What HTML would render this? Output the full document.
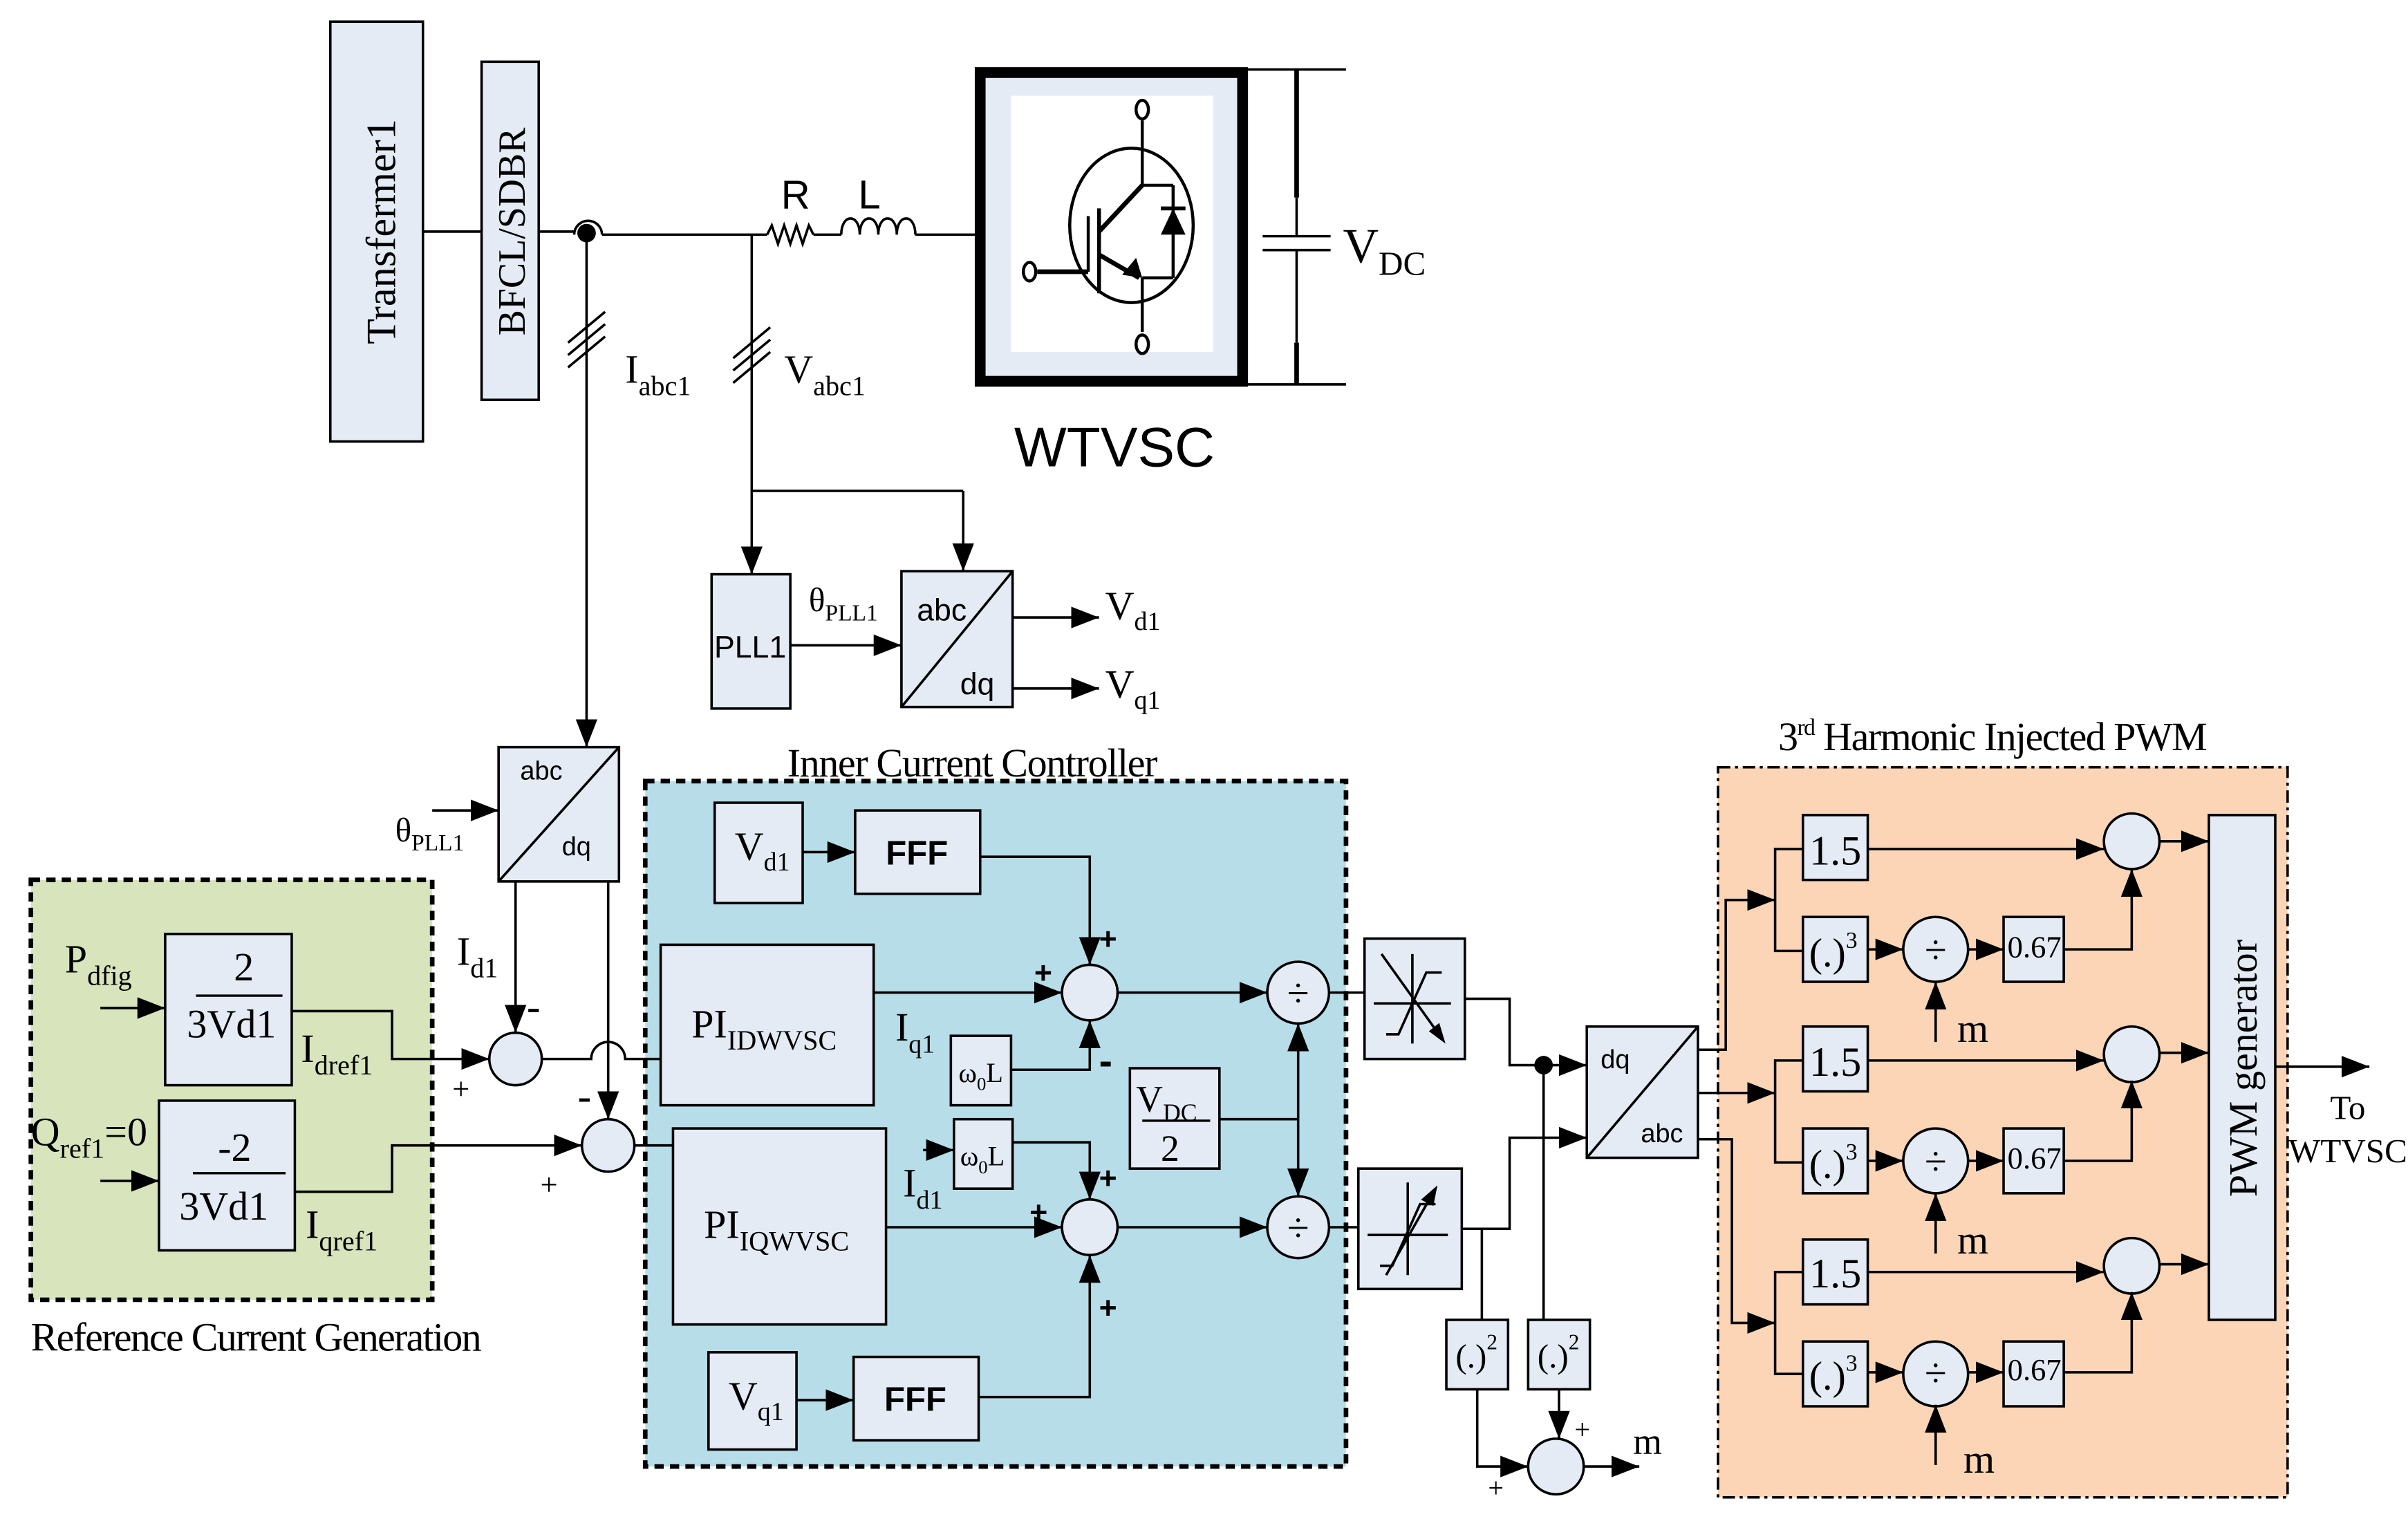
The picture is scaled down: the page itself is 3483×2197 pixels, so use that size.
<!DOCTYPE html>
<html><head><meta charset="utf-8"><style>html,body{margin:0;padding:0;background:#fff}svg{display:block}</style></head>
<body>
<svg xmlns="http://www.w3.org/2000/svg" width="3483" height="2197" viewBox="0 0 1560 984" font-family="'Liberation Serif', serif">
<defs>
<marker id="a" markerUnits="userSpaceOnUse" markerWidth="20" markerHeight="14" refX="18" refY="7" orient="auto"><path d="M0,0 L18,7 L0,14 z" fill="#000"/></marker>
</defs>
<rect width="1560" height="984" fill="#fff"/>
<g stroke="#000" stroke-width="1.6" fill="none">
<rect x="20" y="570" width="260" height="272" fill="#d8e4bc" stroke-width="3" stroke-dasharray="6,4"/>
<rect x="418" y="506" width="454" height="444" fill="#b7dde8" stroke-width="3" stroke-dasharray="6,4"/>
<rect x="1113" y="497" width="369" height="473" fill="#fbd5b5" stroke-width="1.6" stroke-dasharray="8,3,2,3"/>
</g>
<g stroke="#000" stroke-width="1.6" fill="#e4ebf5">
<rect x="214" y="14" width="60" height="272"/>
<rect x="312" y="40" width="37" height="219"/>
<rect x="461" y="372" width="51" height="87"/>
<rect x="584" y="370" width="72" height="88"/>
<rect x="323" y="484" width="78" height="87"/>
<rect x="107" y="605" width="82" height="98"/>
<rect x="103" y="713" width="88" height="97"/>
<rect x="463" y="520" width="57" height="65"/>
<rect x="554" y="525" width="81" height="54"/>
<rect x="428" y="612" width="138" height="104"/>
<rect x="436" y="731" width="138" height="127"/>
<rect x="616" y="671" width="39" height="45"/>
<rect x="618" y="725" width="38" height="45"/>
<rect x="732" y="692" width="58" height="65"/>
<rect x="459" y="876" width="57" height="63"/>
<rect x="553" y="879" width="81" height="54"/>
<rect x="884" y="608" width="65" height="78"/>
<rect x="880" y="757" width="67" height="78"/>
<rect x="937" y="855" width="40" height="45"/>
<rect x="990" y="855" width="40" height="45"/>
<rect x="1028" y="665" width="72" height="85"/>
<rect x="1431" y="528" width="43" height="327"/>
<rect x="1168" y="528" width="42" height="42"/><rect x="1168" y="594" width="42" height="42"/><rect x="1298" y="594" width="39" height="42"/>
<rect x="1168" y="665" width="42" height="42"/><rect x="1168" y="731" width="42" height="42"/><rect x="1298" y="731" width="39" height="42"/>
<rect x="1168" y="803" width="42" height="42"/><rect x="1168" y="869" width="42" height="42"/><rect x="1298" y="869" width="39" height="42"/>
<circle cx="334" cy="686" r="17"/><circle cx="394" cy="742" r="17"/>
<circle cx="706" cy="643" r="18"/><circle cx="706" cy="795" r="18"/>
<circle cx="841" cy="643" r="20"/><circle cx="841" cy="795" r="20"/>
<circle cx="1008" cy="950" r="18"/>
<circle cx="1381" cy="545" r="18"/><circle cx="1254" cy="615" r="21"/>
<circle cx="1381" cy="683" r="18"/><circle cx="1254" cy="752" r="21"/>
<circle cx="1381" cy="820" r="18"/><circle cx="1254" cy="890" r="21"/>
</g>
<rect x="635" y="47" width="170" height="200" fill="#e4ebf5" stroke="#000" stroke-width="7"/>
<rect x="655" y="62" width="131" height="166" fill="#fff"/>
<g stroke="#000" fill="none" stroke-width="2">
<ellipse cx="733" cy="146" rx="40" ry="50"/>
<line x1="740" y1="78" x2="740" y2="120"/><line x1="740" y1="120" x2="760" y2="120"/><line x1="760" y1="120" x2="760" y2="180"/><line x1="740" y1="180" x2="760" y2="180"/><line x1="740" y1="180" x2="740" y2="215"/>
<line x1="740" y1="120" x2="712" y2="150" stroke-width="3"/><line x1="712" y1="165" x2="738" y2="180" stroke-width="3"/>
<line x1="712" y1="135" x2="712" y2="190" stroke-width="2.5"/><line x1="705" y1="140" x2="705" y2="176" stroke-width="2"/>
<line x1="672" y1="176" x2="705" y2="176" stroke-width="3"/>
<line x1="752" y1="135" x2="768" y2="135" stroke-width="2.5"/>
<ellipse cx="740" cy="71" rx="4" ry="6" fill="#fff"/><ellipse cx="740" cy="223" rx="4" ry="6" fill="#fff"/><ellipse cx="667" cy="176" rx="4" ry="6" fill="#fff"/>
</g>
<path d="M760,135 L752,152 L768,152 z M740,180 L727,178 L736,167 z" fill="#000"/>
<g stroke="#000" stroke-width="1.6" fill="none">
<line x1="274" y1="150" x2="312" y2="150"/><line x1="349" y1="150" x2="372" y2="150"/>
<path d="M372,152 A9,9 0 0 1 390,152"/>
<line x1="390" y1="152" x2="497" y2="152"/>
<path d="M497,152 l3,-6 l4,12 l4,-12 l4,12 l4,-12 l4,12 l4,-12 l3,6"/>
<line x1="527" y1="152" x2="545" y2="152"/>
<path d="M545,152 c0,-14 12,-14 12,0 c0,-14 12,-14 12,0 c0,-14 12,-14 12,0 c0,-14 12,-14 12,0"/>
<line x1="593" y1="152" x2="632" y2="152"/>
<line x1="808" y1="45" x2="872" y2="45"/><line x1="808" y1="249" x2="872" y2="249"/>
<line x1="840" y1="45" x2="840" y2="128" stroke-width="3"/><line x1="840" y1="128" x2="840" y2="153"/>
<line x1="818" y1="153" x2="862" y2="153"/><line x1="818" y1="162" x2="862" y2="162"/>
<line x1="840" y1="162" x2="840" y2="222"/><line x1="840" y1="222" x2="840" y2="249" stroke-width="3"/>
<line x1="487" y1="152" x2="487" y2="318"/>
<line x1="487" y1="318" x2="624" y2="318"/>
<line x1="487" y1="318" x2="487" y2="372" marker-end="url(#a)"/>
<line x1="624" y1="318" x2="624" y2="370" marker-end="url(#a)"/>
<line x1="380" y1="152" x2="380" y2="484" marker-end="url(#a)"/>
<path d="M368,222 l24,-20 M368,230 l24,-20 M368,238 l24,-20"/>
<path d="M475,232 l24,-20 M475,240 l24,-20 M475,248 l24,-20"/>
<line x1="512" y1="418" x2="584" y2="418" marker-end="url(#a)"/>
<line x1="584" y1="458" x2="656" y2="370"/>
<line x1="656" y1="400" x2="712" y2="400" marker-end="url(#a)"/>
<line x1="656" y1="446" x2="712" y2="446" marker-end="url(#a)"/>
<line x1="323" y1="571" x2="401" y2="484"/>
<line x1="280" y1="525" x2="323" y2="525" marker-end="url(#a)"/>
<line x1="334" y1="571" x2="334" y2="669" marker-end="url(#a)"/>
<line x1="394" y1="571" x2="394" y2="725" marker-end="url(#a)"/>
<line x1="65" y1="653" x2="107" y2="653" marker-end="url(#a)"/>
<line x1="65" y1="765" x2="103" y2="765" marker-end="url(#a)"/>
<polyline points="189,655 254,655 254,686 317,686" marker-end="url(#a)"/>
<polyline points="191,772 254,772 254,742 377,742" marker-end="url(#a)"/>
<path d="M351,686 L383,686 A11,11 0 0 1 405,686 L428,686"/>
<line x1="411" y1="742" x2="436" y2="742"/>
<line x1="520" y1="552" x2="554" y2="552" marker-end="url(#a)"/>
<polyline points="635,555 706,555 706,625" marker-end="url(#a)"/>
<line x1="566" y1="643" x2="688" y2="643" marker-end="url(#a)"/>
<polyline points="655,693 706,693 706,661" marker-end="url(#a)"/>
<line x1="724" y1="643" x2="821" y2="643" marker-end="url(#a)"/>
<polyline points="790,725 841,725"/>
<line x1="841" y1="725" x2="841" y2="663" marker-end="url(#a)"/>
<line x1="841" y1="725" x2="841" y2="775" marker-end="url(#a)"/>
<line x1="574" y1="795" x2="688" y2="795" marker-end="url(#a)"/>
<line x1="598" y1="745" x2="618" y2="745" marker-end="url(#a)"/>
<polyline points="656,740 706,740 706,777" marker-end="url(#a)"/>
<line x1="516" y1="907" x2="553" y2="907" marker-end="url(#a)"/>
<polyline points="634,905 706,905 706,813" marker-end="url(#a)"/>
<line x1="724" y1="795" x2="821" y2="795" marker-end="url(#a)"/>
<line x1="861" y1="643" x2="884" y2="643"/><line x1="861" y1="795" x2="880" y2="795"/>
<path d="M890,650 L940,650 M915,676 L915,618 M898,670 L906,670 L924,630 L934,630"/>
<path d="M895,618 L935,674" /><path d="M935,674 l-3,-10 l-5,4 z" fill="#000"/>
<path d="M886,800 L938,800 M912,826 L912,766 M894,820 L902,820 L920,780 L930,780"/>
<path d="M930,770 L898,826" /><path d="M930,770 l-2,10 l-6,-3 z" fill="#000"/>
<polyline points="949,647 978,647 978,690 1028,690" marker-end="url(#a)"/>
<polyline points="947,796 978,796 978,737 1028,737" marker-end="url(#a)"/>
<polyline points="960,796 960,855"/>
<line x1="1000" y1="690" x2="1000" y2="855"/>
<polyline points="957,900 957,950 990,950" marker-end="url(#a)"/>
<line x1="1010" y1="900" x2="1010" y2="932" marker-end="url(#a)"/>
<line x1="1026" y1="950" x2="1062" y2="950" marker-end="url(#a)"/>
<line x1="1028" y1="750" x2="1100" y2="665"/>
<polyline points="1100,680 1118,680 1118,583 1150,583" marker-end="url(#a)"/>
<line x1="1100" y1="708" x2="1150" y2="708" marker-end="url(#a)"/>
<polyline points="1100,738 1122,738 1122,857 1150,857" marker-end="url(#a)"/>
<line x1="1474" y1="691" x2="1535" y2="691" marker-end="url(#a)"/>
</g>
<g stroke="#000" stroke-width="1.6" fill="none">
<g id="grp">
<polyline points="1168,550 1150,550 1150,616 1168,616"/>
<line x1="1210" y1="550" x2="1363" y2="550" marker-end="url(#a)"/>
<line x1="1210" y1="615" x2="1233" y2="615" marker-end="url(#a)"/>
<line x1="1275" y1="615" x2="1298" y2="615" marker-end="url(#a)"/>
<polyline points="1337,615 1381,615 1381,563" marker-end="url(#a)"/>
<line x1="1254" y1="675" x2="1254" y2="636" marker-end="url(#a)"/>
<line x1="1399" y1="545" x2="1431" y2="545" marker-end="url(#a)"/>
</g>
<use href="#grp" y="137"/><use href="#grp" y="274"/>
</g>
<circle cx="380" cy="151" r="6" fill="#000"/><circle cx="1000" cy="690" r="6" fill="#000"/>
<g fill="#000" font-size="26">
<text transform="translate(256,150) rotate(-90)" text-anchor="middle" font-size="27">Transfermer1</text>
<text transform="translate(340,150) rotate(-90)" text-anchor="middle" font-size="25">BFCL/SDBR</text>
<text x="405" y="248">I<tspan font-size="18" dy="8">abc1</tspan></text>
<text x="508" y="248">V<tspan font-size="18" dy="8">abc1</tspan></text>
<text x="506" y="135" font-family="'Liberation Sans',sans-serif" font-size="26">R</text>
<text x="556" y="135" font-family="'Liberation Sans',sans-serif" font-size="26">L</text>
<text x="870" y="170" font-size="32">V<tspan font-size="22" dy="8">DC</tspan></text>
<text x="722" y="302" text-anchor="middle" font-family="'Liberation Sans',sans-serif" font-size="36">WTVSC</text>
<text x="486" y="426" text-anchor="middle" font-family="'Liberation Sans',sans-serif" font-size="20">PLL1</text>
<text x="524" y="396" font-size="22">θ<tspan font-size="15" dy="6">PLL1</tspan></text>
<text x="594" y="402" font-family="'Liberation Sans',sans-serif" font-size="20">abc</text>
<text x="622" y="450" font-family="'Liberation Sans',sans-serif" font-size="20">dq</text>
<text x="716" y="401">V<tspan font-size="17" dy="7">d1</tspan></text>
<text x="716" y="452">V<tspan font-size="17" dy="7">q1</tspan></text>
<text x="337" y="505" font-family="'Liberation Sans',sans-serif" font-size="17">abc</text>
<text x="364" y="554" font-family="'Liberation Sans',sans-serif" font-size="17">dq</text>
<text x="256" y="545" font-size="22">θ<tspan font-size="15" dy="6">PLL1</tspan></text>
<text x="630" y="503" text-anchor="middle" font-size="26" textLength="240">Inner Current Controller</text>
<text x="42" y="630">P<tspan font-size="18" dy="8">dfig</tspan></text>
<text x="20" y="742">Q<tspan font-size="18" dy="8">ref1</tspan><tspan dy="-8">=0</tspan></text>
<text x="158" y="635" text-anchor="middle">2</text><line x1="127" y1="645" x2="183" y2="645" stroke="#000" stroke-width="1.5"/>
<text x="150" y="672" text-anchor="middle">3Vd1</text>
<text x="152" y="752" text-anchor="middle">-2</text><line x1="125" y1="760" x2="185" y2="760" stroke="#000" stroke-width="1.5"/>
<text x="145" y="790" text-anchor="middle">3Vd1</text>
<text x="195" y="688">I<tspan font-size="18" dy="8">dref1</tspan></text>
<text x="198" y="802">I<tspan font-size="18" dy="8">qref1</tspan></text>
<text x="166" y="875" text-anchor="middle" font-size="26" textLength="292">Reference Current Generation</text>
<text x="296" y="625">I<tspan font-size="18" dy="8">d1</tspan></text>
<text x="341" y="662" font-size="28" font-family="'Liberation Sans',sans-serif">-</text>
<text x="293" y="712" font-size="20">+</text>
<text x="374" y="720" font-size="28" font-family="'Liberation Sans',sans-serif">-</text>
<text x="350" y="774" font-size="20">+</text>
<text x="476" y="557">V<tspan font-size="17" dy="7">d1</tspan></text>
<text x="594" y="560" text-anchor="middle" font-family="'Liberation Sans',sans-serif" font-weight="bold" font-size="22">FFF</text>
<text x="472" y="913">V<tspan font-size="17" dy="7">q1</tspan></text>
<text x="593" y="914" text-anchor="middle" font-family="'Liberation Sans',sans-serif" font-weight="bold" font-size="22">FFF</text>
<text x="448" y="672">PI<tspan font-size="18" dy="8">IDWVSC</tspan></text>
<text x="456" y="802">PI<tspan font-size="18" dy="8">IQWVSC</tspan></text>
<text x="580" y="674">I<tspan font-size="17" dy="8">q1</tspan></text>
<text x="585" y="775">I<tspan font-size="17" dy="8">d1</tspan></text>
<text x="621" y="701" font-size="18">ω<tspan font-size="12" dy="5">0</tspan><tspan dy="-5">L</tspan></text>
<text x="622" y="755" font-size="18">ω<tspan font-size="12" dy="5">0</tspan><tspan dy="-5">L</tspan></text>
<text x="736" y="720" font-size="24">V<tspan font-size="16" dy="6">DC</tspan></text>
<line x1="740" y1="726" x2="784" y2="726" stroke="#000" stroke-width="1.5"/>
<text x="758" y="752" text-anchor="middle" font-size="24">2</text>
<text x="712" y="615" font-size="20" font-family="'Liberation Sans',sans-serif" font-weight="bold">+</text>
<text x="670" y="637" font-size="20" font-family="'Liberation Sans',sans-serif" font-weight="bold">+</text>
<text x="712" y="696" font-size="26" font-family="'Liberation Sans',sans-serif" font-weight="bold">-</text>
<text x="712" y="770" font-size="20" font-family="'Liberation Sans',sans-serif" font-weight="bold">+</text>
<text x="667" y="792" font-size="20" font-family="'Liberation Sans',sans-serif" font-weight="bold">+</text>
<text x="712" y="854" font-size="20" font-family="'Liberation Sans',sans-serif" font-weight="bold">+</text>
<text x="841" y="652" text-anchor="middle" font-size="26">÷</text>
<text x="841" y="804" text-anchor="middle" font-size="26">÷</text>
<text x="943" y="886" font-size="22">(.)<tspan font-size="14" dy="-12">2</tspan></text>
<text x="996" y="886" font-size="22">(.)<tspan font-size="14" dy="-12">2</tspan></text>
<text x="964" y="970" font-size="18">+</text><text x="1020" y="932" font-size="18">+</text>
<text x="1058" y="942" font-size="24">m</text>
<text x="1037" y="692" font-family="'Liberation Sans',sans-serif" font-size="17">dq</text>
<text x="1063" y="740" font-family="'Liberation Sans',sans-serif" font-size="17">abc</text>
<text x="1291" y="486" text-anchor="middle" font-size="26" textLength="278">3<tspan font-size="15" dy="-10">rd</tspan><tspan dy="10"> Harmonic Injected PWM</tspan></text>
<g id="gt">
<text x="1189" y="560" text-anchor="middle" font-size="27">1.5</text>
<text x="1172" y="626" font-size="26">(.)<tspan font-size="15" dy="-12">3</tspan></text>
<text x="1254" y="624" text-anchor="middle" font-size="26">÷</text>
<text x="1318" y="620" text-anchor="middle" font-size="20">0.67</text>
<text x="1268" y="675" font-size="26">m</text>
</g>
<use href="#gt" y="137"/>
<g transform="translate(0,274)"><text x="1189" y="560" text-anchor="middle" font-size="27">1.5</text>
<text x="1172" y="626" font-size="26">(.)<tspan font-size="15" dy="-12">3</tspan></text>
<text x="1254" y="624" text-anchor="middle" font-size="26">÷</text>
<text x="1318" y="620" text-anchor="middle" font-size="20">0.67</text>
<text x="1272" y="680" font-size="26">m</text></g>
<text transform="translate(1462,692) rotate(-90)" text-anchor="middle" font-size="26">PWM generator</text>
<text x="1521" y="725" text-anchor="middle" font-size="22">To</text>
<text x="1521" y="753" text-anchor="middle" font-size="22">WTVSC</text>
</g>
</svg>
</body></html>
